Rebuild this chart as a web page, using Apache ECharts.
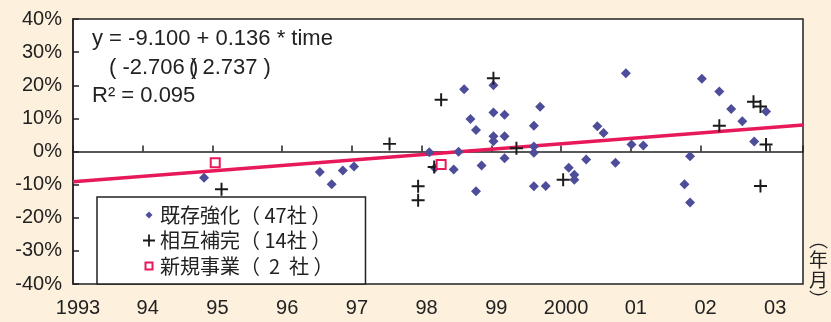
<!DOCTYPE html>
<html>
<head>
<meta charset="utf-8">
<script src="https://cdn.jsdelivr.net/npm/echarts@6/dist/echarts.min.js"></script>
<style>
  html, body { margin: 0; padding: 0; background: #fdf0dc; }
  #main { width: 831px; height: 322px; }
</style>
</head>
<body>
<div id="main"></div>
<script>
// 年（小数） , 変化率(%)
var yearTicks = [1993, 1994, 1995, 1996, 1997, 1998, 1999, 2000, 2001, 2002, 2003];
var yearLabels = ['1993', '94', '95', '96', '97', '98', '99', '2000', '01', '02', '03'];

var kizon = [
    [1994.88, -7.9], [1996.54, -6.2], [1996.71, -9.9], [1996.87, -5.7], [1997.03, -4.5],
    [1998.11, -0.2], [1998.19, -5.0], [1998.46, -5.4], [1998.53, -0.1], [1998.78, -12.0],
    [1998.61, 18.8], [1998.70, 9.8], [1998.78, 6.5], [1998.86, -4.2], [1999.03, 20.0],
    [1999.03, 11.8], [1999.19, 11.1], [1999.03, 4.6], [1999.03, 3.1], [1999.19, 4.6],
    [1999.19, -2.0], [1999.61, 7.8], [1999.70, 13.5], [1999.61, 1.5], [1999.61, -0.4],
    [1999.61, -10.5], [1999.78, -10.4], [2000.11, -4.9], [2000.19, -7.0], [2000.19, -8.5],
    [2000.36, -2.4], [2000.52, 7.6], [2000.61, 5.6], [2000.78, -3.4], [2000.93, 23.6],
    [2001.01, 2.1], [2001.18, 1.8], [2001.85, -1.4], [2001.77, -9.9], [2001.85, -15.4],
    [2002.02, 22.0], [2002.27, 18.1], [2002.44, 12.8], [2002.60, 9.1], [2002.94, 12.1],
    [2002.77, 3.0]
];
var sougo = [
    [1995.13, -11.4], [1997.54, 2.3], [1997.95, -10.5], [1997.95, -14.7], [1998.18, -4.7],
    [1998.28, 15.6], [1999.03, 22.1], [1999.36, 1.0], [2000.03, -8.5], [2002.27, 7.8],
    [2002.76, 15.0], [2002.86, 13.6], [2002.94, 2.1], [2002.86, -10.4]
];
var shinki = [[1995.04, -3.4], [1998.28, -3.9]];
var trend = [[1993, -9.1], [2003.47, 8.0]];

var seriesNames = ['既存強化（ 47社 ）', '相互補完（ 14社 ）', '新規事業（  2  社 ）'];

var numFont = '"Liberation Sans", Arial, sans-serif';
var jpFont = '"Noto Sans CJK JP", sans-serif';

var plusPath = 'path://M5.1,0H6.9V5.1H12V6.9H6.9V12H5.1V6.9H0V5.1H5.1Z';

var myChart = echarts.init(document.getElementById('main'));
var option = {
    backgroundColor: '#fdf0dc',
    animation: false,
    grid: {
        left: 73, right: 28, top: 19, bottom: 38,
        show: true,
        backgroundColor: '#fff',
        borderColor: '#222',
        borderWidth: 1.5
    },
    legend: {
        orient: 'vertical',
        left: 97,
        top: 197,
        padding: [8, 32, 8, 45],
        itemWidth: 12,
        itemHeight: 12,
        itemGap: 5.5,
        backgroundColor: '#fff',
        borderColor: '#222',
        borderWidth: 1.5,
        textStyle: { fontFamily: jpFont, fontSize: 20, lineHeight: 20, color: '#222' },
        data: [
            { name: seriesNames[0], icon: 'path://M0,0M12,12M6,2.5L9.5,6L6,9.5L2.5,6Z' },
            { name: seriesNames[1], icon: plusPath },
            { name: seriesNames[2], icon: 'path://M0,0M12,12M2.5,2.5H9.5V9.5H2.5Z' }
        ]
    },
    xAxis: [{
        type: 'value',
        min: 1993,
        max: 2003.47,
        interval: 1,
        axisLine: { onZero: true, lineStyle: { color: '#222', width: 1.5 } },
        axisTick: { inside: true, length: 6, lineStyle: { color: '#222', width: 1.5 } },
        axisLabel: { show: false },
        splitLine: { show: false }
    }, {
        type: 'value',
        position: 'bottom',
        min: 1993,
        max: 2003.47,
        interval: 1,
        axisLine: { show: false, onZero: false },
        axisTick: { show: false },
        splitLine: { show: false },
        axisLabel: {
            margin: 14,
            padding: [0, 0, 0, 10],
            fontFamily: numFont,
            fontSize: 20,
            color: '#222',
            showMaxLabel: false,
            formatter: function (v) {
                var i = yearTicks.indexOf(Math.round(v * 100) / 100);
                return i < 0 ? '' : yearLabels[i];
            }
        }
    }],
    yAxis: {
        type: 'value',
        min: -40,
        max: 40,
        interval: 10,
        axisLine: { show: true, lineStyle: { color: '#222', width: 1.5 } },
        axisTick: { show: true, inside: true, length: 6, lineStyle: { color: '#222', width: 1.5 } },
        axisLabel: { margin: 11, fontFamily: numFont, fontSize: 20, color: '#222', formatter: '{value}%' },
        splitLine: { show: false }
    },
    graphic: [
        { type: 'text', left: 92, top: 28, style: { text: 'y = -9.100 + 0.136 * time', font: '22px ' + numFont, fill: '#222' } },
        { type: 'text', left: 109, top: 57, style: { text: '( -2.706 )', font: '22px ' + numFont, fill: '#222' } },
        { type: 'text', left: 189, top: 57, style: { text: '( 2.737 )', font: '22px ' + numFont, fill: '#222' } },
        { type: 'text', left: 92, top: 85, style: { text: 'R² = 0.095', font: '22px ' + numFont, fill: '#222' } },
        { type: 'text', left: 809, top: 230, style: { text: '︵\n年\n月\n︶', font: '19px ' + jpFont, lineHeight: 20, fill: '#222', align: 'center' } }
    ],
    series: [{
        name: 'trend',
        type: 'line',
        data: trend,
        symbol: 'none',
        lineStyle: { color: '#e8195a', width: 3.5 },
        silent: true,
        z: 1
    }, {
        name: seriesNames[0],
        type: 'scatter',
        data: kizon,
        symbol: 'diamond',
        symbolSize: 10,
        itemStyle: { color: '#4d4d9a', opacity: 1 },
        z: 3
    }, {
        name: seriesNames[1],
        type: 'scatter',
        data: sougo,
        symbol: plusPath,
        symbolSize: 13,
        itemStyle: { color: '#1a1a1a', opacity: 1 },
        z: 4
    }, {
        name: seriesNames[2],
        type: 'scatter',
        data: shinki,
        symbol: 'rect',
        symbolSize: 9,
        itemStyle: { color: '#fff', borderColor: '#e8195a', borderWidth: 2, opacity: 1 },
        z: 4
    }]
};
myChart.setOption(option, true);
window.addEventListener('resize', function () {
    myChart.resize();
});
</script>
</body>
</html>
